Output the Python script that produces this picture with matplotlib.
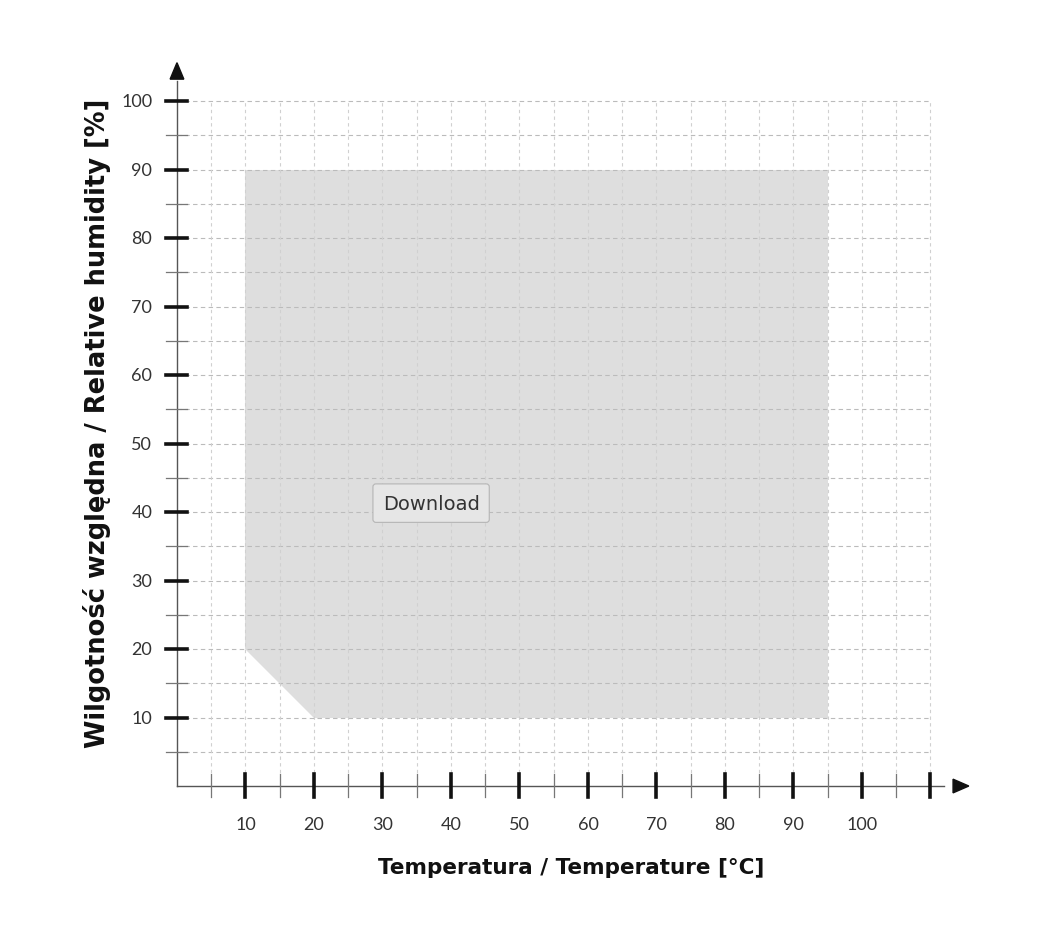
import numpy as np
import matplotlib.pyplot as plt
from matplotlib.patches import Polygon

# obszar pracy komory (temperatura, wilgotnosc)
temp_pts = [10, 10, 95, 95, 20]
hum_pts = [20, 90, 90, 10, 10]

x_major = list(range(10, 111, 10))
x_labels = ['10', '20', '30', '40', '50', '60', '70', '80', '90', '100']
x_minor = list(range(5, 111, 10))
y_major = list(range(10, 101, 10))
y_minor = list(range(5, 101, 10))
grid_x = list(range(5, 111, 5))
grid_y = list(range(5, 101, 5))

fig = plt.figure(figsize=(10.48, 9.28), dpi=100)
ax = fig.add_axes([0.1558, 0.0781, 0.7974, 0.9005])
ax.set_xlim(-2, 120)
ax.set_ylim(-10, 112)
ax.axis('off')

# wypelnienie
poly = Polygon(np.column_stack([temp_pts, hum_pts]), closed=True,
               facecolor='#dedede', edgecolor='none', zorder=1)
ax.add_patch(poly)

# siatka
for gy in grid_y:
    ax.plot([0, 110], [gy, gy], color='#bbbbbb', lw=0.8, ls=(0, (4, 3)), zorder=2)
for gx in grid_x:
    ax.plot([gx, gx], [0, 100], color='#d0d0d0', lw=0.8, ls=(0, (3, 3)), zorder=2)

# osie
ax.plot([0, 112], [0, 0], color='#555555', lw=1.0, zorder=3)
ax.plot([0, 0], [0, 103], color='#555555', lw=1.0, zorder=3)
ax.fill([113.3, 113.3, 115.6], [-1.0, 1.0, 0], color='#111111', zorder=4)
ax.fill([-1.0, 1.0, 0], [103.2, 103.2, 105.6], color='#111111', zorder=4)

# znaczniki
for t in x_major:
    ax.plot([t, t], [-1.6, 1.7], color='#111111', lw=2.6, zorder=4)
for t in x_minor:
    ax.plot([t, t], [-1.6, 1.7], color='#777777', lw=0.9, zorder=4)
for t in y_major:
    ax.plot([-1.6, 1.5], [t, t], color='#111111', lw=2.6, zorder=4)
for t in y_minor:
    ax.plot([-1.6, 1.5], [t, t], color='#777777', lw=0.9, zorder=4)

for t, lab in zip(x_major, x_labels):
    ax.text(t, -5.5, lab, ha='center', va='center', fontsize=13,
            family='Lato', color='#333333', clip_on=False)
for t in y_major:
    ax.text(-3.6, t, str(t), ha='right', va='center', fontsize=13,
            family='Lato', color='#333333', clip_on=False)

ax.text(57.5, -11.8, 'Temperatura / Temperature [°C]', ha='center', va='center',
        fontsize=15.5, fontweight='bold', color='#111111', clip_on=False)
ax.text(-11.7, 53.1, 'Wilgotność względna / Relative humidity [%]', ha='center',
        va='center', rotation=90, fontsize=18.5, fontweight='bold',
        color='#111111', clip_on=False)

ax.text(37.1, 41.3, 'Download', ha='center', va='center', fontsize=14,
        color='#333333', zorder=6,
        bbox=dict(boxstyle='round,pad=0.5,rounding_size=0.15', facecolor='#e6e6e6',
                  edgecolor='#b5b5b5', lw=0.8))

fig.savefig('out.png', dpi=100)
